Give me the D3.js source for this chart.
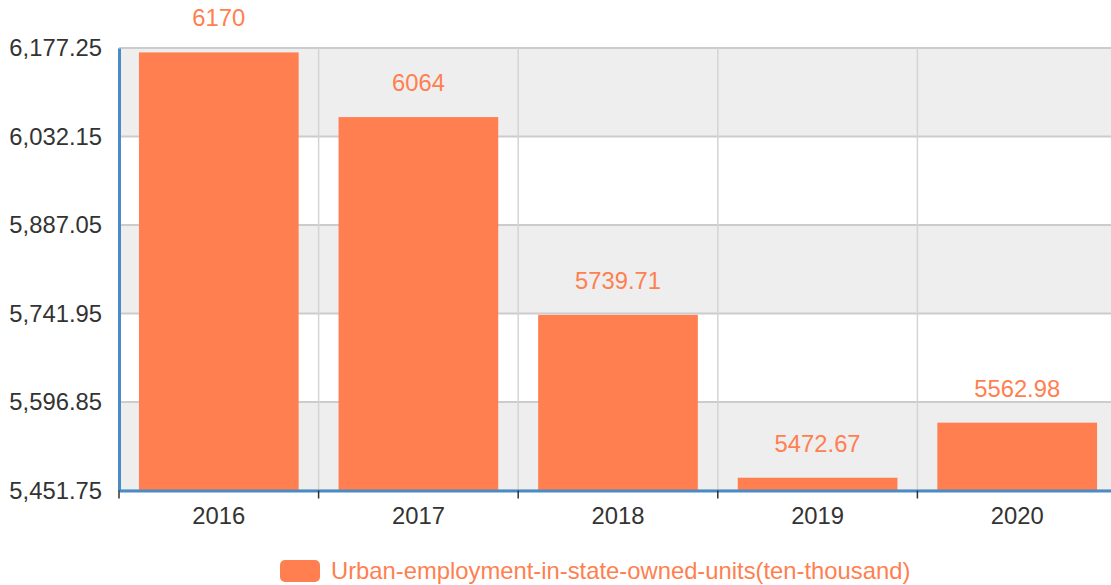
<!DOCTYPE html>
<html>
<head>
<meta charset="utf-8">
<script src="https://cdn.jsdelivr.net/npm/d3@7/dist/d3.min.js"></script>
<style>
html,body{margin:0;padding:0;background:#fff;}
svg{display:block;font-family:"Liberation Sans",Arial,Helvetica,sans-serif;}
</style>
</head>
<body>
<svg id="chart" width="1111" height="585"></svg>
<script>
const categories = ["2016", "2017", "2018", "2019", "2020"];
const values = [6170, 6064, 5739.71, 5472.67, 5562.98];
const yTicks = [5451.75, 5596.85, 5741.95, 5887.05, 6032.15, 6177.25];
const seriesName = "Urban-employment-in-state-owned-units(ten-thousand)";

const W = 1111, H = 585;
const margin = {left: 119, top: 48, right: -6, bottom: 94.5};
const x0 = margin.left, x1 = W - margin.right;
const y0 = H - margin.bottom, y1 = margin.top;
const barColor = "#ff7f50";
const axisColor = "#4a8bc6";
const FS = 23.8;

const svg = d3.select("#chart");

const x = d3.scaleBand().domain(categories).range([x0, x1]).paddingInner(0).paddingOuter(0);
const y = d3.scaleLinear().domain([yTicks[0], yTicks[yTicks.length - 1]]).range([y0, y1]);

// split areas
const bands = d3.pairs(yTicks);
svg.append("g").selectAll("rect").data(bands).join("rect")
  .attr("x", x0).attr("width", x1 - x0)
  .attr("y", d => y(d[1])).attr("height", d => y(d[0]) - y(d[1]))
  .attr("fill", (d, i) => i % 2 === 0 ? "#eeeeee" : "#ffffff");

// horizontal grid
svg.append("g").selectAll("line").data(yTicks).join("line")
  .attr("x1", x0).attr("x2", x1)
  .attr("y1", d => y(d)).attr("y2", d => y(d))
  .attr("stroke", "#cccccc").attr("stroke-width", 2);

// vertical grid at category boundaries
const boundaries = categories.map(c => x(c)).concat([x1]);
svg.append("g").selectAll("line").data(boundaries.slice(1)).join("line")
  .attr("x1", d => d).attr("x2", d => d)
  .attr("y1", y1).attr("y2", y0)
  .attr("stroke", "#d4d4d4").attr("stroke-width", 1.5);

// bars
const bw = x.bandwidth() * 0.8;
svg.append("g").selectAll("rect").data(values).join("rect")
  .attr("x", (d, i) => x(categories[i]) + (x.bandwidth() - bw) / 2)
  .attr("width", bw)
  .attr("y", d => y(d))
  .attr("height", d => y0 - y(d))
  .attr("fill", barColor);

// value labels
svg.append("g").selectAll("text").data(values).join("text")
  .attr("x", (d, i) => x(categories[i]) + x.bandwidth() / 2)
  .attr("y", d => y(d) - 26)
  .attr("text-anchor", "middle")
  .attr("font-size", FS)
  .attr("fill", barColor)
  .text(d => String(d));

// y axis
const fmt = d3.format(",.2f");
const yAxis = d3.axisLeft(y).tickValues(yTicks).tickSize(0).tickPadding(17).tickFormat(fmt);
const gy = svg.append("g").attr("transform", `translate(${x0},0)`).call(yAxis);
gy.select(".domain").attr("stroke", axisColor).attr("stroke-width", 3);
gy.selectAll("text").attr("font-size", FS).attr("fill", "#333").attr("font-family", "Liberation Sans, Arial, sans-serif");

// x axis
const xAxis = d3.axisBottom(x).tickSize(0).tickPadding(17);
const gx = svg.append("g").attr("transform", `translate(0,${y0})`).call(xAxis);
gx.select(".domain").attr("stroke", axisColor).attr("stroke-width", 3);
gx.selectAll("text").attr("font-size", FS).attr("fill", "#333").attr("dy", "0.71em").attr("font-family", "Liberation Sans, Arial, sans-serif");
// boundary ticks
gx.append("g").selectAll("line").data(boundaries).join("line")
  .attr("x1", d => d).attr("x2", d => d)
  .attr("y1", 0).attr("y2", 8)
  .attr("stroke", "#333").attr("stroke-width", 1.5);

// legend
const lg = svg.append("g");
lg.append("rect").attr("x", 280).attr("y", 560).attr("width", 40).attr("height", 22).attr("rx", 5).attr("fill", barColor);
lg.append("text").attr("x", 331).attr("y", 579).attr("font-size", FS).attr("fill", barColor).text(seriesName);
</script>
</body>
</html>
